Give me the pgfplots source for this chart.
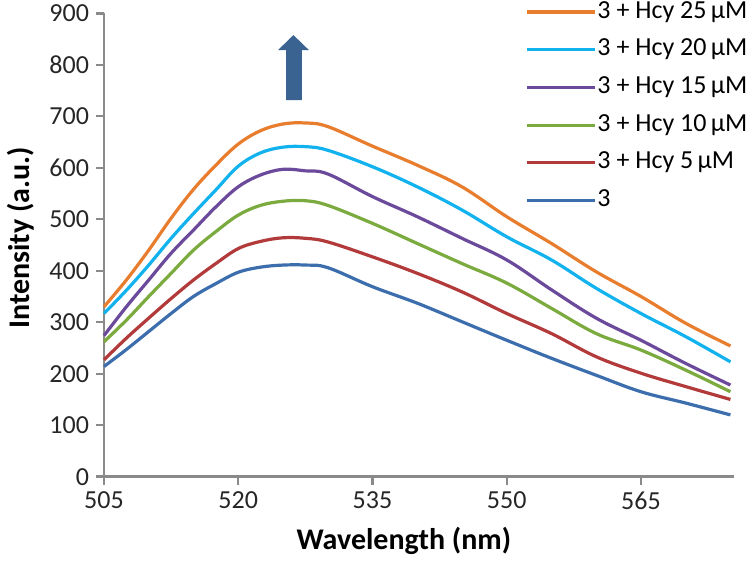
\documentclass[border=0pt]{standalone}
\usepackage{pgfplots}
\pgfplotsset{compat=1.18}
\usepackage{pgfplotstable}
\usepackage{fontspec}
\setmainfont{Carlito}
\usetikzlibrary{calc}
\definecolor{cOr}{HTML}{E87D2E}
\definecolor{cCy}{HTML}{11B2EE}
\definecolor{cPu}{HTML}{6B4A9C}
\definecolor{cGr}{HTML}{7BAA3E}
\definecolor{cRe}{HTML}{B23A3A}
\definecolor{cBl}{HTML}{3C6EAE}
\definecolor{cAx}{HTML}{8A8A8A}
\definecolor{cArr}{HTML}{3A6392}
\pgfplotstableread{
x      o    c    p    g    r    b
505    330  317  274  262  227  214
507.5  382  362  330  304  269  247
510    440  411  382  350  308  282
512.5  502  463  434  395  346  317
515    558  511  479  440  382  350
517.5  605  557  524  476  414  375
520    646  603  563  508  443  397
522.5  672  629  586  527  457  407
525    685  640  597  535  464  411
527.5  687  641  594  536  463  411
530    680  634  588  527  456  406
535    642  602  544  492  427  369
540    605  563  505  453  395  337
545    563  518  463  414  359  301
550    505  466  421  376  317  265
555    453  421  363  327  278  230
560    398  366  308  278  233  197
565    350  317  265  246  201  165
570    298  272  220  207  175  143
575    254  223  178  165  150  120
}\data
\begin{document}
\begin{tikzpicture}
\begin{axis}[
  name=ax,
  scale only axis,
  width=315pt, height=231.7pt,
  xmin=505, xmax=575.4, ymin=0, ymax=900,
  xtick={505,520,535,550,565},
  ytick={0,100,...,900},
  axis lines*=left,
  axis line style={cAx, line width=1.2pt},
  tick style={cAx, line width=1.2pt},
  tick align=outside,
  major tick length=4pt,
  /pgf/number format/assume math mode=true,
  /pgf/number format/1000 sep={},
  tick label style={font=\fontsize{13}{15}\selectfont, text=black!85},
  xlabel={\textbf{Wavelength (nm)}},
  ylabel={\textbf{Intensity (a.u.)}},
  label style={font=\fontsize{15}{17}\selectfont},
  xlabel style={at={(axis description cs:0.476,-0.158)}, anchor=base},
  ylabel style={at={(axis description cs:-0.099,0.515)}, anchor=south},
  clip=false,
  legend cell align=left,
  legend style={draw=none, fill=none, at={(0.668,1.0337)}, anchor=north west,
    font=\fontsize{13}{15}\selectfont, row sep=4.85pt, inner sep=0pt,
    nodes={text height=9.5pt, text depth=3.5pt, inner sep=0.5pt}},
  legend image code/.code={\draw[#1, line width=1.6pt] (0pt,0pt) -- (34pt,0pt);},
  every axis plot/.append style={line width=1.6pt, smooth, tension=0.6, no markers},
]
\addplot[cOr] table[x=x,y=o] {\data};
\addlegendentry{3 + Hcy 25\,µM}
\addplot[cCy] table[x=x,y=c] {\data};
\addlegendentry{3 + Hcy 20\,µM}
\addplot[cPu] table[x=x,y=p] {\data};
\addlegendentry{3 + Hcy 15\,µM}
\addplot[cGr] table[x=x,y=g] {\data};
\addlegendentry{3 + Hcy 10\,µM}
\addplot[cRe] table[x=x,y=r] {\data};
\addlegendentry{3 + Hcy 5\,µM}
\addplot[cBl] table[x=x,y=b] {\data};
\addlegendentry{3}
\fill[cArr] (axis cs:525.34,731.5) -- (axis cs:525.34,828.5) -- (axis cs:524.44,828.5) -- (axis cs:526.17,857.7) -- (axis cs:527.9,828.5) -- (axis cs:527.12,828.5) -- (axis cs:527.12,731.5) -- cycle;
\end{axis}
\pgfresetboundingbox
\path ($(ax.south west)+(-52pt,-43.15pt)$) rectangle ($(ax.north east)+(10.5pt,6.65pt)$);
\end{tikzpicture}
\end{document}
